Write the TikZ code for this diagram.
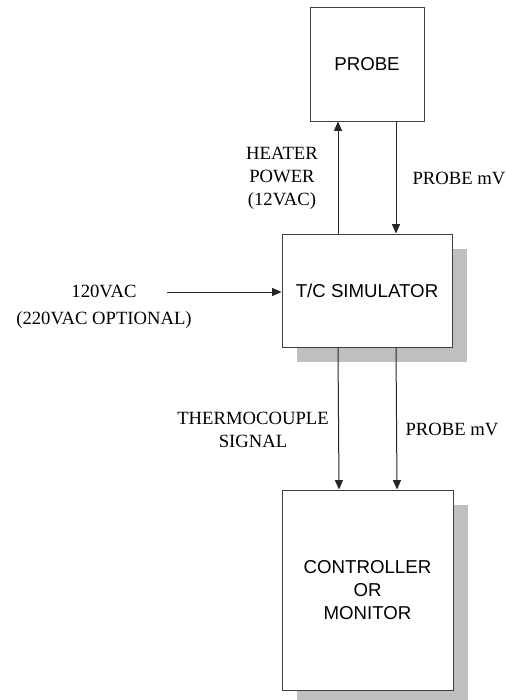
\documentclass[tikz,border=0pt]{standalone}
\usepackage{fontspec}
\setmainfont{Liberation Serif}
\setsansfont{Liberation Sans}
\usetikzlibrary{
    arrows.meta,
    positioning,
    shadows,
}

\begin{document}
\begin{tikzpicture}[
        x=0.75pt, y=-0.75pt,
        line width=0.75pt,
        blockbox/.style={
            draw=black!75, fill=white, inner sep=0pt,
            font=\sffamily\fontsize{14}{17.25}\selectfont, align=center,
        },
        shadowed/.style={
            drop shadow={shadow xshift=11.25pt, shadow yshift=-11.25pt,
                fill=black!25, opacity=1},
        },
        sigtext/.style={
            font=\rmfamily\fontsize{14}{17.25}\selectfont, align=center,
            inner sep=0pt,
        },
        sigline/.style={
            draw=black!85, -{Triangle[length=7pt, width=6pt]},
        },
    ]
    \useasboundingbox (0,0) rectangle (506,700);

    % blocks
    \node[blockbox, minimum width=85.5pt, minimum height=85.5pt]
        (probe) at (367,64) {PROBE};
    \node[blockbox, shadowed, minimum width=127.5pt, minimum height=84.75pt]
        (sim) at (367,290.5) {T/C SIMULATOR};
    \node[blockbox, shadowed, minimum width=128.25pt, minimum height=150pt]
        (ctrl) at (367.5,590) {CONTROLLER\\OR\\MONITOR};

    % probe <-> simulator
    \draw[sigline] ([xshift=-21.75pt]sim.north) -- ([xshift=-21.75pt]probe.south);
    \draw[sigline] ([xshift=21.75pt]probe.south) -- ([xshift=21.75pt]sim.north);
    \node[sigtext] (heat) at (282,178) {HEATER\\POWER\\(12VAC)};
    \node[sigtext, anchor=west] (pmv) at (412,178) {PROBE mV};

    % mains input
    \coordinate (mains) at (167,292);
    \draw[sigline] (mains) -- (mains -| sim.west);
    \node[sigtext] (supply) at (104,306.5) {120VAC\\[3pt](220VAC OPTIONAL)};

    % simulator -> controller
    \draw[sigline] ([xshift=-21.75pt]sim.south) -- ([xshift=-21.375pt]ctrl.north);
    \draw[sigline] ([xshift=21.75pt]sim.south) -- ([xshift=22.125pt]ctrl.north);
    \node[sigtext] (tcsig) at (253,430) {THERMOCOUPLE\\SIGNAL};
    \node[sigtext, anchor=west] (cmv) at (405,429) {PROBE mV};
\end{tikzpicture}
\end{document}
